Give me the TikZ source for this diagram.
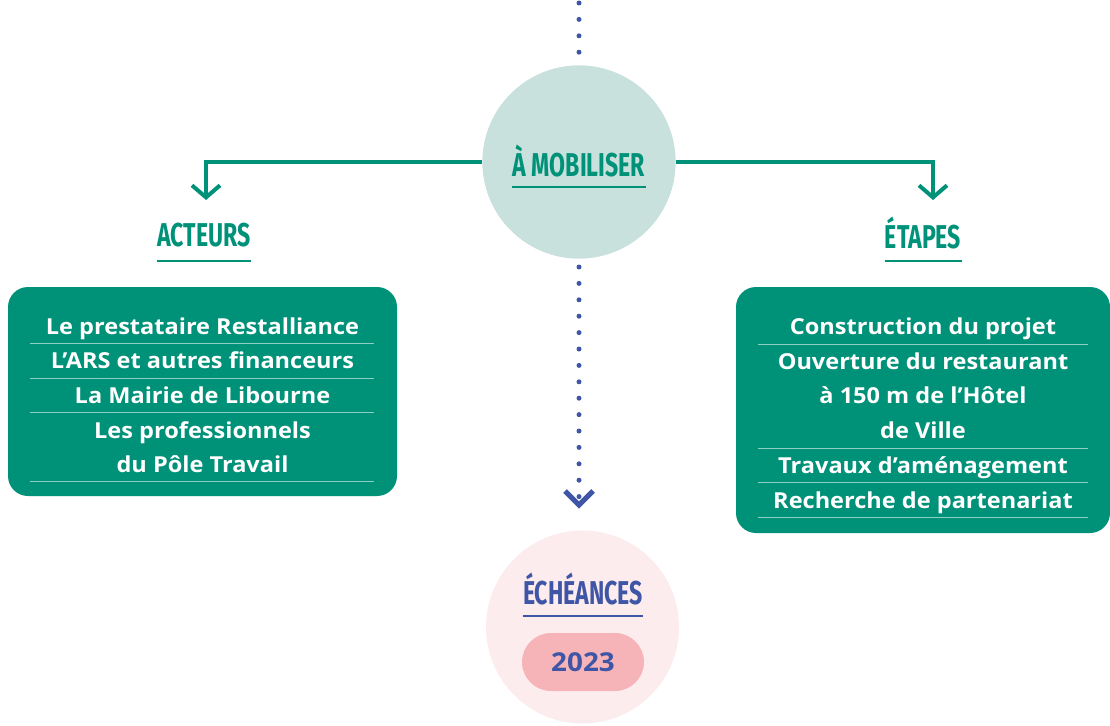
\documentclass[tikz,border=0pt]{standalone}
\usepackage{fontspec}
\setmainfont{Open Sans}[FakeStretch=1.07]
\newfontfamily\headfont[FakeStretch=0.7]{Fira Sans}
\usetikzlibrary{arrows.meta}
\definecolor{mygreen}{HTML}{009179}
\definecolor{mylight}{HTML}{C9E1DC}
\definecolor{sepline}{HTML}{8ECFC3}
\definecolor{myblue}{HTML}{3F55A5}
\definecolor{pinkbg}{HTML}{FCECEE}
\definecolor{pinkpill}{HTML}{F7B4B8}
\tikzset{
  x=1pt, y=-1pt,
  greenline/.style={draw=mygreen, line width=4pt},
  greenarrow/.style={greenline, -{Straight Barb[length=12pt,width=28pt]}},
  dotline/.style={draw=myblue, line width=5pt, line cap=round, dash pattern=on 0pt off 16.4pt},
  heading/.style={font=\headfont\bfseries\fontsize{33}{34}\selectfont, inner sep=0pt},
  uline/.style={line width=2pt},
  boxtext/.style={text=white, font=\bfseries\fontsize{22}{25}\selectfont, inner sep=0pt, anchor=base},
  sep/.style={draw=sepline, line width=1pt},
  panel/.style={fill=mygreen, rounded corners=20pt, draw=none},
}
\begin{document}
\begin{tikzpicture}
\useasboundingbox (0,0) rectangle (1110,725);
% coordinates for connectors
\coordinate (top) at (579,3);
\coordinate (acarrow) at (206,200);
\coordinate (etarrow) at (933,200);
\coordinate (lowstart) at (579,267);
\coordinate (lowend) at (579,497);
% dotted connectors
\draw[dotline] (top) -- (579,60);
\draw[dotline] (lowstart) -- (lowend);
\draw[draw=myblue, line width=5pt, line join=miter] (565,491) -- (579,505) -- (593,491);
% centre circle
\node[circle, fill=mylight, minimum size=193pt, inner sep=0pt] (mob) at (579,162) {};
\draw[greenarrow] (mob.west) -| (acarrow);
\draw[greenarrow] (mob.east) -| (etarrow);
\fill[mylight] (579,162) circle (96.5pt);
\node[heading, text=mygreen] (mobtitle) at (579,161) {À MOBILISER};
\draw[mygreen, uline] (512,187) -- (646,187);
% headings
\node[heading, text=mygreen] (acteurs) at (204,235) {ACTEURS};
\draw[mygreen, uline] (157,261) -- (251,261);
\node[heading, text=mygreen] (etapes) at (923,233) {ÉTAPES};
\draw[mygreen, uline] (885,261) -- (962,261);
% left panel
\fill[panel] (8,287) rectangle (397,496);
\node[boxtext] (a1) at (202.5,334) {Le prestataire Restalliance};
\node[boxtext] (a2) at (202.5,368) {L’ARS et autres financeurs};
\node[boxtext] (a3) at (202.5,403) {La Mairie de Libourne};
\node[boxtext] (a4) at (202.5,438) {Les professionnels};
\node[boxtext] (a5) at (202.5,472) {du Pôle Travail};
\foreach \yy in {343,378,412,481} \draw[sep] (30,\yy) -- (374,\yy);
% right panel
\fill[panel] (736,287) rectangle (1110,533);
\node[boxtext] (b1) at (923,334) {Construction du projet};
\node[boxtext] (b2) at (923,369) {Ouverture du restaurant};
\node[boxtext] (b3) at (923,403) {à 150 m de l’Hôtel};
\node[boxtext] (b4) at (923,438) {de Ville};
\node[boxtext] (b5) at (923,473) {Travaux d’aménagement};
\node[boxtext] (b6) at (923,508) {Recherche de partenariat};
\foreach \yy in {344,448,482,517} \draw[sep] (758,\yy) -- (1088,\yy);
% echeances circle
\node[circle, fill=pinkbg, minimum size=193pt, inner sep=0pt] (ech) at (582.5,627) {};
\node[heading, text=myblue] (echtitle) at (583,589) {ÉCHÉANCES};
\draw[myblue, uline] (523,616) -- (643,616);
\node[fill=pinkpill, rounded corners=29pt, minimum width=122pt, minimum height=58pt, inner sep=0pt] (pill) at (583,662) {};
\node[text=myblue, font=\bfseries\fontsize{26}{27}\selectfont, anchor=base] (year) at (583,671) {2023};
\end{tikzpicture}
\end{document}
